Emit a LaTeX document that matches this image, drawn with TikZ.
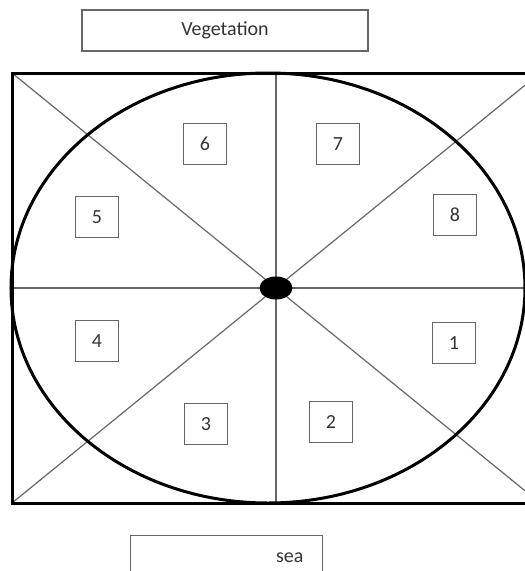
\documentclass[tikz,border=0pt]{standalone}
\usepackage{fontspec}
\setmainfont{Carlito}
\usetikzlibrary{positioning,shapes.geometric}

\begin{document}
\begin{tikzpicture}[x=1pt, y=-1pt, every node/.style={font=\fontsize{20}{24}\selectfont, text=black!80}]
\tikzset{
  numbox/.style={draw=black!60, line width=1.4pt, minimum width=43pt, minimum height=41pt, inner sep=0pt},
  labelbox/.style={draw=black!60, line width=1.4pt, inner sep=0pt},
  spoke/.style={draw=black!60, line width=1.2pt}
}
\useasboundingbox (0,0) rectangle (525,571);
\clip (0,0) rectangle (525,571);

% corners of the plot
\coordinate (nw) at (12,73);
\coordinate (ne) at (540,73);
\coordinate (sw) at (12,503);
\coordinate (se) at (540,503);
\coordinate (n) at (276,73);
\coordinate (s) at (276,503);
\coordinate (w) at (12,288);
\coordinate (e) at (540,288);

% spokes through the centre
\draw[spoke] (nw) -- (se);
\draw[spoke] (sw) -- (ne);
\draw[spoke] (n) -- (s);
\draw[spoke] (w) -- (e);

\draw[line width=3pt] (nw) rectangle (se);
\draw[line width=3pt] (268,288) ellipse [x radius=257, y radius=215];
\node[fill=black, ellipse, minimum width=33pt, minimum height=23pt, inner sep=0pt] (ctr) at (276,288) {};

\node[labelbox, minimum width=286pt, minimum height=41pt] (veg) at (225,30.5) {Vegetation};
\node[labelbox, minimum width=192pt, minimum height=60pt, anchor=north west] (seabox) at (130,535) {};
\node[anchor=base east] (sea) at (307,562) {sea};

\node[numbox] (q1) at (454,343) {1};
\node[numbox] (q2) at (331,422) {2};
\node[numbox] (q3) at (206,424) {3};
\node[numbox] (q4) at (97,341) {4};
\node[numbox] (q5) at (97,217) {5};
\node[numbox] (q6) at (205,144) {6};
\node[numbox] (q7) at (338,144) {7};
\node[numbox] (q8) at (455,215) {8};
\end{tikzpicture}
\end{document}
